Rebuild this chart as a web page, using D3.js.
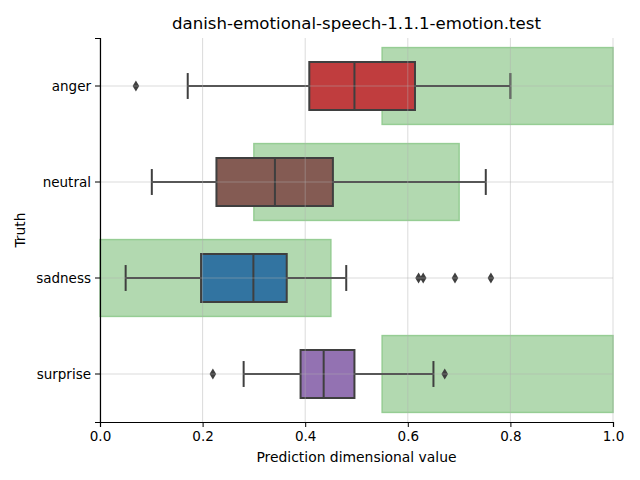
<!DOCTYPE html>
<html>
<head>
<meta charset="utf-8">
<script src="https://cdn.jsdelivr.net/npm/d3@7"></script>
<style>
  html, body { margin: 0; padding: 0; background: #fff; }
  svg { display: block; }
  text { font-family: "DejaVu Sans", sans-serif; fill: #000; }
</style>
</head>
<body>
<svg id="chart" width="640" height="480"></svg>
<script>
const categories = ["anger", "neutral", "sadness", "surprise"];
const whiskerLow = [0.171, 0.101, 0.050, 0.280];
const q1 = [0.408, 0.227, 0.197, 0.391];
const median = [0.496, 0.341, 0.299, 0.436];
const q3 = [0.614, 0.454, 0.364, 0.496];
const whiskerHigh = [0.800, 0.752, 0.480, 0.650];
const outliers = [[0.070], [], [0.621, 0.630, 0.692, 0.762], [0.220, 0.672]];
const rangeLow = [0.55, 0.30, 0.0, 0.55];
const rangeHigh = [1.0, 0.70, 0.45, 1.0];
const boxColors = ["#c03d3e", "#845b53", "#3274a1", "#9372b2"];
const xTicks = [0.0, 0.2, 0.4, 0.6, 0.8, 1.0];
const title = "danish-emotional-speech-1.1.1-emotion.test";
const xLabel = "Prediction dimensional value";
const yLabel = "Truth";

const svg = d3.select("#chart");
const m = { left: 100, right: 613, top: 38, bottom: 422 };
const x = d3.scaleLinear().domain([0, 1]).range([m.left, m.right]);
const y = d3.scaleBand().domain(categories).range([m.top, m.bottom]).padding(0);
const bw = y.bandwidth();
const lineCol = "#3f3f3f";

// green expected ranges
svg.append("g").selectAll("rect").data(categories).join("rect")
  .attr("x", (d, i) => x(rangeLow[i]))
  .attr("y", d => y(d) + bw * 0.1)
  .attr("width", (d, i) => x(rangeHigh[i]) - x(rangeLow[i]))
  .attr("height", bw * 0.8)
  .attr("fill", "rgb(178,217,176)")
  .attr("stroke", "rgb(150,205,148)")
  .attr("stroke-width", 1.5);

const boxH = bw * 0.5;
const g = svg.append("g");
categories.forEach((c, i) => {
  const cy = y(c) + bw / 2;
  g.append("line").attr("x1", x(whiskerLow[i])).attr("x2", x(q1[i]))
    .attr("y1", cy).attr("y2", cy).attr("stroke", lineCol).attr("stroke-width", 2);
  g.append("line").attr("x1", x(q3[i])).attr("x2", x(whiskerHigh[i]))
    .attr("y1", cy).attr("y2", cy).attr("stroke", lineCol).attr("stroke-width", 2);
  [whiskerLow[i], whiskerHigh[i]].forEach(v => {
    g.append("line").attr("x1", x(v)).attr("x2", x(v))
      .attr("y1", cy - boxH * 0.27).attr("y2", cy + boxH * 0.27)
      .attr("stroke", lineCol).attr("stroke-width", 2);
  });
  g.append("rect").attr("x", x(q1[i])).attr("y", cy - boxH / 2)
    .attr("width", x(q3[i]) - x(q1[i])).attr("height", boxH)
    .attr("fill", boxColors[i]).attr("stroke", lineCol).attr("stroke-width", 2);
  g.append("line").attr("x1", x(median[i])).attr("x2", x(median[i]))
    .attr("y1", cy - boxH / 2).attr("y2", cy + boxH / 2)
    .attr("stroke", lineCol).attr("stroke-width", 2);
  outliers[i].forEach(v => {
    const px = x(v), w = 3.3, h = 5.5;
    g.append("path")
      .attr("d", `M${px},${cy - h}L${px + w},${cy}L${px},${cy + h}L${px - w},${cy}Z`)
      .attr("fill", lineCol);
  });
});

// grid on top
const grid = svg.append("g").attr("stroke", "#b0b0b0").attr("stroke-opacity", 0.45).attr("stroke-width", 1);
xTicks.forEach(t => {
  grid.append("line").attr("x1", x(t)).attr("x2", x(t)).attr("y1", m.top).attr("y2", m.bottom);
});
categories.forEach(c => {
  const cy = y(c) + bw / 2;
  grid.append("line").attr("x1", m.left).attr("x2", m.right).attr("y1", cy).attr("y2", cy);
});

// axes
const xAxis = svg.append("g").attr("transform", `translate(0,${m.bottom})`)
  .call(d3.axisBottom(x).tickValues(xTicks).tickFormat(d3.format(".1f")).tickSizeOuter(0).tickSize(5).tickPadding(4));
const yAxis = svg.append("g").attr("transform", `translate(${m.left},0)`)
  .call(d3.axisLeft(y).tickSizeOuter(0).tickSize(5).tickPadding(4));
[xAxis, yAxis].forEach(a => {
  a.selectAll("text").attr("font-family", "DejaVu Sans").attr("font-size", "13.5px").attr("fill", "#000");
  a.selectAll("line").attr("stroke", "#000").attr("stroke-width", 1);
  a.select(".domain").attr("stroke", "#000").attr("stroke-width", 1.2);
});
yAxis.selectAll(".tick text").attr("dy", "0.35em");

svg.append("text").attr("x", (m.left + m.right) / 2).attr("y", 29)
  .attr("text-anchor", "middle").attr("font-size", "16.6px").text(title);
svg.append("text").attr("x", (m.left + m.right) / 2).attr("y", 462)
  .attr("text-anchor", "middle").attr("font-size", "13.9px").text(xLabel);
svg.append("text").attr("transform", `translate(25,${(m.top + m.bottom) / 2}) rotate(-90)`)
  .attr("text-anchor", "middle").attr("font-size", "13.9px").text(yLabel);
</script>
</body>
</html>
